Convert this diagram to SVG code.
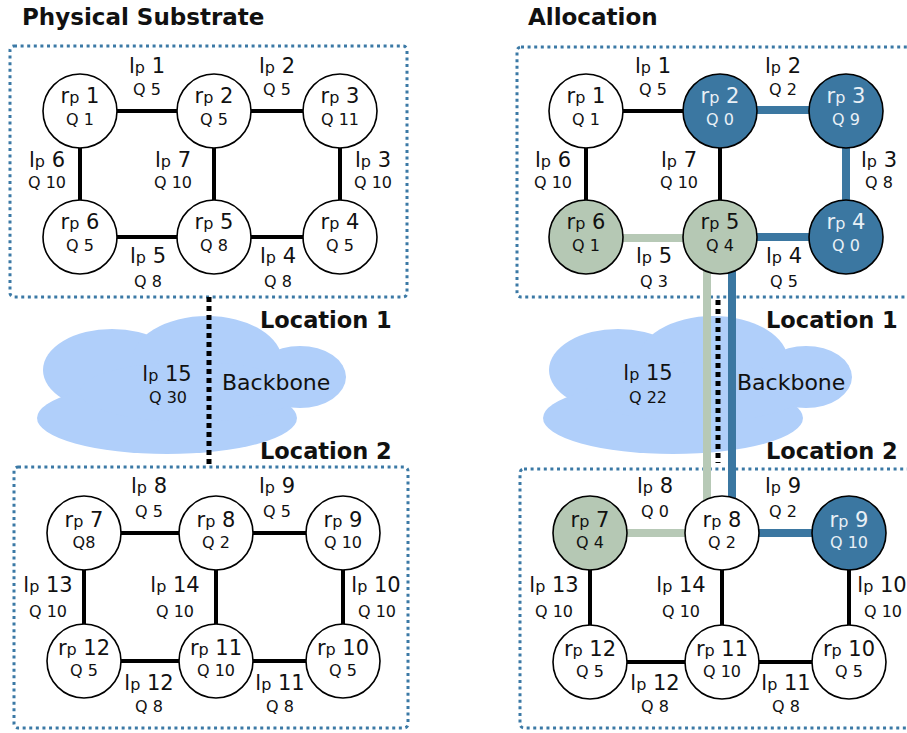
<svg xmlns="http://www.w3.org/2000/svg" width="907" height="733" viewBox="0 0 907 733">
<style>
.box{fill:none;stroke:#3b79a5;stroke-width:3;stroke-dasharray:3 3.6}
.cloud{fill:#b0cffa}
.e{stroke:#000;stroke-width:4;fill:none}
.eb{stroke:#3b77a1;stroke-width:8;fill:none}
.eg{stroke:#b7c9b6;stroke-width:8;fill:none}
.bb{stroke:#000;stroke-width:5;stroke-dasharray:5 4;fill:none}
.n{fill:#fff;stroke:#000;stroke-width:1.6}
.nb{fill:#3b77a1;stroke:#000;stroke-width:1.6}
.ng{fill:#b5c8b4;stroke:#000;stroke-width:1.6}
text{font-family:"DejaVu Sans","Liberation Sans",sans-serif;fill:#111}
.t{font-size:21px;text-anchor:middle}
.q{font-size:16px;text-anchor:middle}
.s{font-size:16px}
.w{fill:#e9f0f6}
.h{font-size:22.5px;font-weight:bold}
.ti{font-size:23px;font-weight:bold}
.bk{font-size:22px}
</style>
<rect fill="#fff" x="0" y="0" width="907" height="733"/>

<g id="titles">
<text class="ti" x="22" y="25">Physical Substrate</text>
<text class="ti" x="528" y="25">Allocation</text>
<text class="h" x="260" y="328">Location 1</text>
<text class="h" x="260" y="459">Location 2</text>
<text class="h" x="766" y="328">Location 1</text>
<text class="h" x="766" y="459">Location 2</text>
</g>

<g id="locations">
<rect class="box" x="10" y="46" width="397" height="251" rx="4"/>
<rect class="box" x="14" y="467" width="394" height="261" rx="4"/>
<rect class="box" x="517" y="47" width="396" height="250" rx="4"/>
<rect class="box" x="520" y="469" width="394" height="259" rx="4"/>
</g>

<g id="backbone-left">
<ellipse class="cloud" cx="112" cy="370" rx="69" ry="41"/>
<ellipse class="cloud" cx="207" cy="361" rx="75" ry="45"/>
<ellipse class="cloud" cx="300" cy="377" rx="46" ry="31"/>
<ellipse class="cloud" cx="167" cy="418" rx="130" ry="36"/>
<ellipse class="cloud" cx="190" cy="392" rx="110" ry="30"/>
<text class="bk" x="222" y="390">Backbone</text>
</g>
<g id="backbone-right">
<ellipse class="cloud" cx="618" cy="370" rx="69" ry="41"/>
<ellipse class="cloud" cx="713" cy="361" rx="75" ry="45"/>
<ellipse class="cloud" cx="806" cy="377" rx="46" ry="31"/>
<ellipse class="cloud" cx="673" cy="418" rx="130" ry="36"/>
<ellipse class="cloud" cx="696" cy="392" rx="110" ry="30"/>
<text class="bk" x="737" y="390">Backbone</text>
</g>

<g id="connectors">
<line class="e" x1="80" y1="111" x2="214" y2="111"/>
<line class="e" x1="214" y1="111" x2="340" y2="111"/>
<line class="e" x1="80" y1="237" x2="214" y2="237"/>
<line class="e" x1="214" y1="237" x2="340" y2="237"/>
<line class="e" x1="80" y1="111" x2="80" y2="237"/>
<line class="e" x1="214" y1="111" x2="214" y2="237"/>
<line class="e" x1="340" y1="111" x2="340" y2="237"/>
<line class="e" x1="84" y1="533" x2="216" y2="533"/>
<line class="e" x1="216" y1="533" x2="343" y2="533"/>
<line class="e" x1="84" y1="661" x2="216" y2="661"/>
<line class="e" x1="216" y1="661" x2="343" y2="661"/>
<line class="e" x1="84" y1="533" x2="84" y2="661"/>
<line class="e" x1="216" y1="533" x2="216" y2="661"/>
<line class="e" x1="343" y1="533" x2="343" y2="661"/>
<line class="bb" x1="209" y1="297" x2="209" y2="466"/>
<line class="e" x1="586" y1="111" x2="720" y2="111"/>
<line class="eb" x1="720" y1="110" x2="846" y2="110"/>
<line class="eg" x1="586" y1="238" x2="720" y2="238"/>
<line class="eb" x1="720" y1="237" x2="846" y2="237"/>
<line class="e" x1="586" y1="111" x2="586" y2="237"/>
<line class="e" x1="720" y1="111" x2="720" y2="237"/>
<line class="eb" x1="846" y1="111" x2="846" y2="237"/>
<line class="eg" x1="590" y1="533" x2="722" y2="533"/>
<line class="eb" x1="722" y1="533" x2="849" y2="533"/>
<line class="e" x1="590" y1="662" x2="722" y2="662"/>
<line class="e" x1="722" y1="662" x2="849" y2="662"/>
<line class="e" x1="590" y1="533" x2="590" y2="662"/>
<line class="e" x1="722" y1="533" x2="722" y2="662"/>
<line class="e" x1="849" y1="533" x2="849" y2="662"/>
<line class="eg" x1="707" y1="240" x2="707" y2="520"/>
<line class="eb" x1="732" y1="240" x2="732" y2="520"/>
<line class="bb" x1="718" y1="300" x2="718" y2="463"/>

<text class="t" x="147" y="73">l<tspan class="s">p</tspan> 1</text><text class="q" x="147" y="95">Q 5</text>
<text class="t" x="277" y="73">l<tspan class="s">p</tspan> 2</text><text class="q" x="277" y="95">Q 5</text>
<text class="t" x="47" y="167">l<tspan class="s">p</tspan> 6</text><text class="q" x="47" y="188">Q 10</text>
<text class="t" x="173" y="167">l<tspan class="s">p</tspan> 7</text><text class="q" x="173" y="188">Q 10</text>
<text class="t" x="373" y="167">l<tspan class="s">p</tspan> 3</text><text class="q" x="373" y="188">Q 10</text>
<text class="t" x="148" y="263">l<tspan class="s">p</tspan> 5</text><text class="q" x="148" y="287">Q 8</text>
<text class="t" x="278" y="263">l<tspan class="s">p</tspan> 4</text><text class="q" x="278" y="287">Q 8</text>
<text class="t" x="167" y="381">l<tspan class="s">p</tspan> 15</text><text class="q" x="168" y="403">Q 30</text>
<text class="t" x="149" y="493">l<tspan class="s">p</tspan> 8</text><text class="q" x="149" y="517">Q 5</text>
<text class="t" x="277" y="493">l<tspan class="s">p</tspan> 9</text><text class="q" x="277" y="517">Q 5</text>
<text class="t" x="48" y="592">l<tspan class="s">p</tspan> 13</text><text class="q" x="48" y="617">Q 10</text>
<text class="t" x="175" y="592">l<tspan class="s">p</tspan> 14</text><text class="q" x="175" y="617">Q 10</text>
<text class="t" x="376" y="592">l<tspan class="s">p</tspan> 10</text><text class="q" x="377" y="617">Q 10</text>
<text class="t" x="149" y="690">l<tspan class="s">p</tspan> 12</text><text class="q" x="149" y="712">Q 8</text>
<text class="t" x="280" y="690">l<tspan class="s">p</tspan> 11</text><text class="q" x="280" y="712">Q 8</text>
<text class="t" x="653" y="73">l<tspan class="s">p</tspan> 1</text><text class="q" x="653" y="95">Q 5</text>
<text class="t" x="783" y="73">l<tspan class="s">p</tspan> 2</text><text class="q" x="783" y="95">Q 2</text>
<text class="t" x="553" y="167">l<tspan class="s">p</tspan> 6</text><text class="q" x="553" y="188">Q 10</text>
<text class="t" x="679" y="167">l<tspan class="s">p</tspan> 7</text><text class="q" x="679" y="188">Q 10</text>
<text class="t" x="879" y="167">l<tspan class="s">p</tspan> 3</text><text class="q" x="879" y="188">Q 8</text>
<text class="t" x="654" y="263">l<tspan class="s">p</tspan> 5</text><text class="q" x="654" y="287">Q 3</text>
<text class="t" x="784" y="263">l<tspan class="s">p</tspan> 4</text><text class="q" x="784" y="287">Q 5</text>
<text class="t" x="648" y="380">l<tspan class="s">p</tspan> 15</text><text class="q" x="648" y="403">Q 22</text>
<text class="t" x="655" y="493">l<tspan class="s">p</tspan> 8</text><text class="q" x="655" y="517">Q 0</text>
<text class="t" x="783" y="493">l<tspan class="s">p</tspan> 9</text><text class="q" x="783" y="517">Q 2</text>
<text class="t" x="554" y="592">l<tspan class="s">p</tspan> 13</text><text class="q" x="554" y="617">Q 10</text>
<text class="t" x="681" y="592">l<tspan class="s">p</tspan> 14</text><text class="q" x="681" y="617">Q 10</text>
<text class="t" x="882" y="592">l<tspan class="s">p</tspan> 10</text><text class="q" x="883" y="617">Q 10</text>
<text class="t" x="655" y="690">l<tspan class="s">p</tspan> 12</text><text class="q" x="655" y="712">Q 8</text>
<text class="t" x="786" y="690">l<tspan class="s">p</tspan> 11</text><text class="q" x="786" y="712">Q 8</text>
</g>

<g id="s-rp1"><circle class="n" cx="80" cy="111" r="37"/><text class="t" x="80" y="103">r<tspan class="s">p</tspan> 1</text><text class="q" x="80" y="125">Q 1</text></g>
<g id="s-rp2"><circle class="n" cx="214" cy="111" r="37"/><text class="t" x="214" y="103">r<tspan class="s">p</tspan> 2</text><text class="q" x="214" y="125">Q 5</text></g>
<g id="s-rp3"><circle class="n" cx="340" cy="111" r="37"/><text class="t" x="340" y="103">r<tspan class="s">p</tspan> 3</text><text class="q" x="340" y="125">Q 11</text></g>
<g id="s-rp6"><circle class="n" cx="80" cy="237" r="37"/><text class="t" x="80" y="229">r<tspan class="s">p</tspan> 6</text><text class="q" x="80" y="251">Q 5</text></g>
<g id="s-rp5"><circle class="n" cx="214" cy="237" r="37"/><text class="t" x="214" y="229">r<tspan class="s">p</tspan> 5</text><text class="q" x="214" y="251">Q 8</text></g>
<g id="s-rp4"><circle class="n" cx="340" cy="237" r="37"/><text class="t" x="340" y="229">r<tspan class="s">p</tspan> 4</text><text class="q" x="340" y="251">Q 5</text></g>
<g id="s-rp7"><circle class="n" cx="84" cy="533" r="37"/><text class="t" x="84" y="527">r<tspan class="s">p</tspan> 7</text><text class="q" x="84" y="548">Q8</text></g>
<g id="s-rp8"><circle class="n" cx="216" cy="533" r="37"/><text class="t" x="216" y="527">r<tspan class="s">p</tspan> 8</text><text class="q" x="216" y="548">Q 2</text></g>
<g id="s-rp9"><circle class="n" cx="343" cy="533" r="37"/><text class="t" x="343" y="527">r<tspan class="s">p</tspan> 9</text><text class="q" x="343" y="548">Q 10</text></g>
<g id="s-rp12"><circle class="n" cx="84" cy="661" r="37"/><text class="t" x="84" y="655">r<tspan class="s">p</tspan> 12</text><text class="q" x="84" y="676">Q 5</text></g>
<g id="s-rp11"><circle class="n" cx="216" cy="661" r="37"/><text class="t" x="216" y="655">r<tspan class="s">p</tspan> 11</text><text class="q" x="216" y="676">Q 10</text></g>
<g id="s-rp10"><circle class="n" cx="343" cy="661" r="37"/><text class="t" x="343" y="655">r<tspan class="s">p</tspan> 10</text><text class="q" x="343" y="676">Q 5</text></g>

<g id="a-rp1"><circle class="n" cx="586" cy="111" r="37"/><text class="t" x="586" y="103">r<tspan class="s">p</tspan> 1</text><text class="q" x="586" y="125">Q 1</text></g>
<g id="a-rp2"><circle class="nb" cx="720" cy="111" r="37"/><text class="t w" x="720" y="103">r<tspan class="s">p</tspan> 2</text><text class="q w" x="720" y="125">Q 0</text></g>
<g id="a-rp3"><circle class="nb" cx="846" cy="111" r="37"/><text class="t w" x="846" y="103">r<tspan class="s">p</tspan> 3</text><text class="q w" x="846" y="125">Q 9</text></g>
<g id="a-rp6"><circle class="ng" cx="586" cy="237" r="37"/><text class="t" x="586" y="229">r<tspan class="s">p</tspan> 6</text><text class="q" x="586" y="251">Q 1</text></g>
<g id="a-rp5"><circle class="ng" cx="720" cy="237" r="37"/><text class="t" x="720" y="229">r<tspan class="s">p</tspan> 5</text><text class="q" x="720" y="251">Q 4</text></g>
<g id="a-rp4"><circle class="nb" cx="846" cy="237" r="37"/><text class="t w" x="846" y="229">r<tspan class="s">p</tspan> 4</text><text class="q w" x="846" y="251">Q 0</text></g>
<g id="a-rp7"><circle class="ng" cx="590" cy="533" r="37"/><text class="t" x="590" y="527">r<tspan class="s">p</tspan> 7</text><text class="q" x="590" y="548">Q 4</text></g>
<g id="a-rp8"><circle class="n" cx="722" cy="533" r="37"/><text class="t" x="722" y="527">r<tspan class="s">p</tspan> 8</text><text class="q" x="722" y="548">Q 2</text></g>
<g id="a-rp9"><circle class="nb" cx="849" cy="533" r="37"/><text class="t w" x="849" y="527">r<tspan class="s">p</tspan> 9</text><text class="q w" x="849" y="548">Q 10</text></g>
<g id="a-rp12"><circle class="n" cx="590" cy="662" r="37"/><text class="t" x="590" y="656">r<tspan class="s">p</tspan> 12</text><text class="q" x="590" y="677">Q 5</text></g>
<g id="a-rp11"><circle class="n" cx="722" cy="662" r="37"/><text class="t" x="722" y="656">r<tspan class="s">p</tspan> 11</text><text class="q" x="722" y="677">Q 10</text></g>
<g id="a-rp10"><circle class="n" cx="849" cy="662" r="37"/><text class="t" x="849" y="656">r<tspan class="s">p</tspan> 10</text><text class="q" x="849" y="677">Q 5</text></g>
</svg>
